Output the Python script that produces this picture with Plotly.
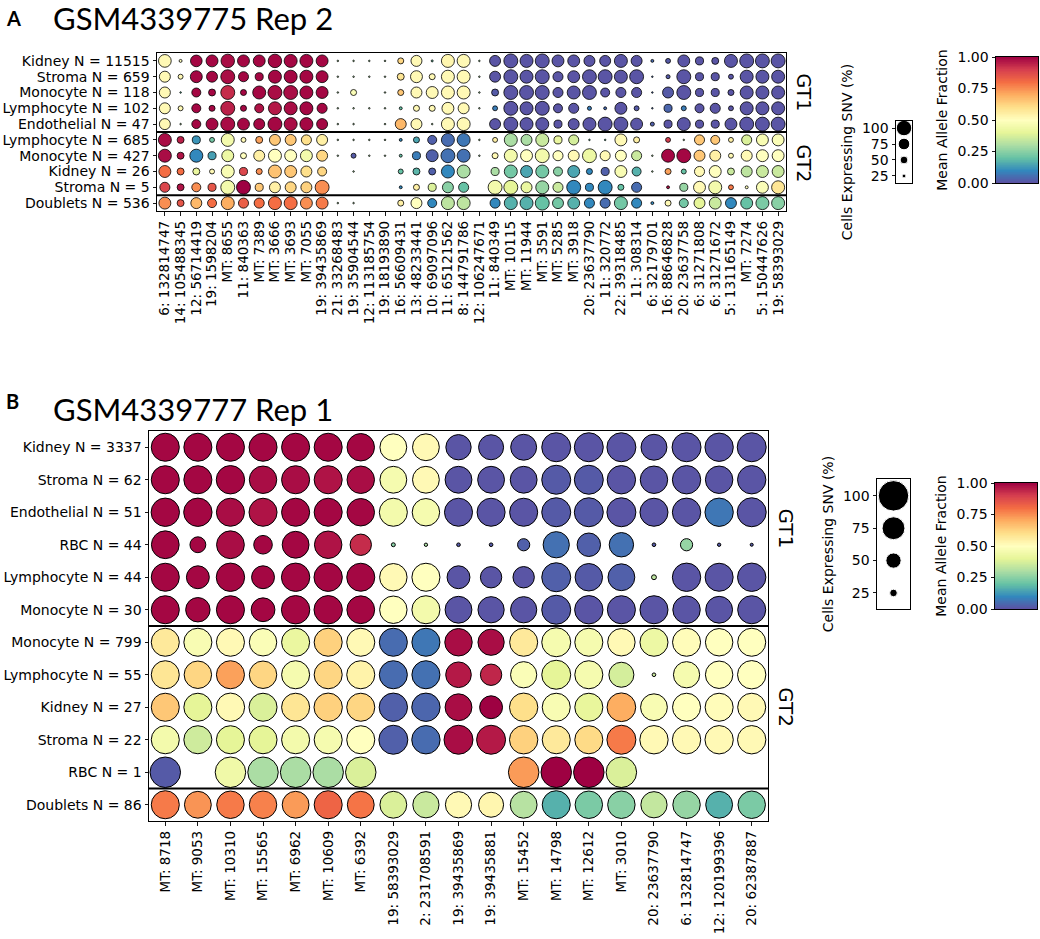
import numpy as np
import plotly.graph_objects as go

# ---------------- Panel A data ----------------
A_rows = ["Kidney N = 11515", "Stroma N = 659", "Monocyte N = 118", "Lymphocyte N = 102",
          "Endothelial N = 47", "Lymphocyte N = 685", "Monocyte N = 427", "Kidney N = 26",
          "Stroma N = 5", "Doublets N = 536"]
A_cols = ["6: 132814747", "14: 105488345", "12: 56714419", "19: 1598204", "MT: 8655",
          "11: 840363", "MT: 7389", "MT: 3666", "MT: 3693", "MT: 7055",
          "19: 39435869", "21: 33268483", "19: 35904544", "12: 113185754", "19: 18193890",
          "16: 56609431", "13: 48233441", "10: 69097096", "11: 65121562", "8: 144791786",
          "12: 106247671", "11: 840349", "MT: 10115", "MT: 11944", "MT: 3591",
          "MT: 5285", "MT: 3918", "20: 23637790", "11: 320772", "22: 39318485",
          "11: 308314", "6: 32179701", "16: 88646828", "20: 23637758", "6: 31271808",
          "6: 31271672", "5: 131165149", "MT: 7274", "5: 150447626", "19: 58393029"]
N = None
# cells expressing SNV (%)
A_pct = [
    [82, 19, 75, 77, 87, 77, 77, 87, 84, 84, 77, 10, 10, 10, 10, 39, 71, 13, 84, 84, 10, 71, 90, 84, 90, 77, 77, 71, 71, 84, 71, 19, 32, 77, 52, 45, 84, 90, 90, 90],
    [71, 32, 77, 71, 90, 65, 52, 84, 84, 84, 77, 10, 10, 10, 10, 45, 77, 39, 84, 84, 10, 71, 90, 84, 90, 65, 77, 90, 90, 84, 90, 10, 26, 90, 52, 52, 32, 84, 84, 84],
    [71, 10, 58, 45, 90, 39, 84, 90, 90, 84, 77, 10, 39, N, 10, 39, 71, 77, 84, 84, 10, 45, 90, 90, 90, 65, 84, 90, 58, 65, 65, 10, 71, 90, 52, 52, 39, 84, 84, 84],
    [71, 32, 58, 39, 90, 39, 58, 84, 84, 84, 65, 10, 10, 10, 10, 19, 39, 39, 77, 71, 10, 32, 90, 84, 90, 58, 65, 26, 19, 77, 32, 10, 52, 32, 58, 65, 32, 84, 84, 84],
    [71, 10, 58, 77, 90, 77, 71, 90, 84, 84, 71, 10, 10, N, 10, 71, 71, 10, 84, 84, N, 71, 90, 84, 84, 52, 71, 84, 90, 90, 77, 26, 52, 84, 52, 52, 77, 90, 90, 90],
    [84, 45, 52, 32, 84, 32, 45, 71, 71, 65, 71, 10, 10, 10, 10, 19, 39, 58, 84, 84, 10, 32, 84, 71, 84, 52, 65, 10, 10, 77, 39, N, 32, 10, 65, 58, 32, 65, 77, 77],
    [84, 45, 84, 52, 77, 39, 71, 84, 77, 77, 71, 10, 32, 10, 10, 19, 52, 77, 90, 84, 10, 39, 84, 77, 90, 65, 71, 90, 65, 71, 65, 10, 84, 90, 71, 71, 32, 71, 77, 77],
    [77, 45, 45, 32, 84, 52, 39, 84, 77, 71, 58, N, 10, N, N, 32, 45, 45, 84, 84, N, 52, 84, 77, 84, 58, 77, 39, 52, 77, 58, 10, 39, 32, 65, 77, 45, 71, 77, 77],
    [65, 45, 58, 52, 90, 90, 52, 71, 71, 71, 90, N, N, N, N, 19, 39, 52, 71, 65, N, 90, 90, 71, 84, 65, 90, 52, 90, 39, 65, N, 19, 52, 77, 84, 32, 19, 77, 84],
    [77, 45, 71, 58, 84, 65, 65, 84, 84, 77, 77, 10, 10, N, N, 39, 71, 58, 84, 84, N, 65, 84, 84, 90, 71, 77, 65, 65, 84, 65, 19, 39, 58, 71, 77, 71, 77, 84, 84],
]
# mean allele fraction
A_maf = [
    [0.52, 0.50, 0.99, 0.99, 0.98, 0.99, 0.99, 0.99, 0.99, 0.99, 0.99, 0.30, 0.30, 0.30, 0.30, 0.62, 0.52, 0.20, 0.53, 0.52, 0.30, 0.01, 0.01, 0.01, 0.01, 0.01, 0.01, 0.01, 0.01, 0.01, 0.01, 0.05, 0.02, 0.01, 0.01, 0.01, 0.01, 0.01, 0.01, 0.01],
    [0.52, 0.52, 0.99, 0.99, 0.98, 0.99, 0.99, 0.99, 0.99, 0.99, 0.99, 0.30, 0.30, 0.30, 0.30, 0.58, 0.52, 0.52, 0.52, 0.52, 0.30, 0.01, 0.01, 0.01, 0.01, 0.01, 0.01, 0.01, 0.01, 0.01, 0.01, 0.05, 0.02, 0.01, 0.01, 0.01, 0.01, 0.01, 0.01, 0.01],
    [0.52, 0.20, 0.99, 0.99, 0.93, 0.99, 0.99, 0.98, 0.98, 0.99, 0.99, 0.30, 0.48, N, 0.30, 0.65, 0.52, 0.52, 0.52, 0.52, 0.30, 0.02, 0.01, 0.01, 0.01, 0.01, 0.01, 0.01, 0.01, 0.01, 0.01, 0.05, 0.02, 0.01, 0.01, 0.01, 0.01, 0.01, 0.01, 0.01],
    [0.52, 0.52, 0.99, 0.99, 0.95, 0.99, 0.97, 0.96, 0.98, 0.99, 0.99, 0.30, 0.30, 0.30, 0.30, 0.20, 0.52, 0.52, 0.52, 0.52, 0.30, 0.08, 0.01, 0.01, 0.01, 0.01, 0.01, 0.08, 0.05, 0.01, 0.02, 0.05, 0.04, 0.08, 0.01, 0.01, 0.01, 0.01, 0.01, 0.01],
    [0.52, 0.30, 0.99, 0.99, 0.98, 0.99, 0.99, 0.99, 0.98, 0.99, 0.99, 0.30, 0.30, N, 0.30, 0.68, 0.52, 0.30, 0.52, 0.52, N, 0.01, 0.01, 0.01, 0.01, 0.01, 0.01, 0.01, 0.01, 0.01, 0.01, 0.03, 0.01, 0.01, 0.01, 0.01, 0.01, 0.01, 0.01, 0.01],
    [0.98, 0.95, 0.12, 0.22, 0.45, 0.52, 0.72, 0.65, 0.65, 0.60, 0.55, 0.30, 0.30, 0.30, 0.30, 0.10, 0.15, 0.03, 0.05, 0.07, 0.30, 0.55, 0.30, 0.30, 0.35, 0.42, 0.37, 0.20, 0.20, 0.52, 0.55, N, 0.90, 0.30, 0.65, 0.65, 0.55, 0.38, 0.47, 0.48],
    [0.98, 0.97, 0.10, 0.14, 0.43, 0.50, 0.55, 0.50, 0.50, 0.45, 0.62, 0.30, 0.02, 0.30, 0.30, 0.20, 0.08, 0.03, 0.06, 0.06, 0.30, 0.52, 0.45, 0.50, 0.45, 0.50, 0.52, 0.43, 0.52, 0.50, 0.35, 0.30, 0.99, 0.99, 0.65, 0.55, 0.52, 0.52, 0.50, 0.50],
    [0.80, 0.80, 0.42, 0.52, 0.47, 0.88, 0.75, 0.66, 0.65, 0.60, 0.62, N, 0.30, N, N, 0.20, 0.18, 0.03, 0.10, 0.30, N, 0.30, 0.22, 0.15, 0.22, 0.25, 0.15, 0.10, 0.03, 0.47, 0.17, 0.30, 0.72, 0.20, 0.52, 0.50, 0.35, 0.33, 0.35, 0.35],
    [0.88, 0.97, 0.75, 0.85, 0.45, 1.00, 0.65, 0.55, 0.62, 0.63, 0.75, N, N, N, N, 0.10, 0.55, 0.38, 0.25, 0.20, N, 0.45, 0.40, 0.42, 0.27, 0.35, 0.10, 0.10, 0.10, 0.20, 0.05, N, 0.97, 0.27, 0.52, 0.45, 0.78, 0.50, 0.48, 0.58],
    [0.75, 0.85, 0.68, 0.80, 0.70, 0.83, 0.80, 0.80, 0.80, 0.75, 0.78, 0.30, 0.30, N, N, 0.55, 0.50, 0.10, 0.33, 0.33, N, 0.10, 0.17, 0.17, 0.20, 0.22, 0.17, 0.10, 0.05, 0.22, 0.10, 0.10, 0.52, 0.22, 0.40, 0.35, 0.10, 0.20, 0.23, 0.25],
]

# ---------------- Panel B data ----------------
B_rows = ["Kidney N = 3337", "Stroma N = 62", "Endothelial N = 51", "RBC N = 44",
          "Lymphocyte N = 44", "Monocyte N = 30", "Monocyte N = 799", "Lymphocyte N = 55",
          "Kidney N = 27", "Stroma N = 22", "RBC N = 1", "Doublets N = 86"]
B_cols = ["MT: 8718", "MT: 9053", "MT: 10310", "MT: 15565", "MT: 6962", "MT: 10609", "MT: 6392",
          "19: 58393029", "2: 231708591", "19: 39435869", "19: 39435881", "MT: 15452",
          "MT: 14798", "MT: 12612", "MT: 3010", "20: 23637790", "6: 132814747",
          "12: 120199396", "20: 62387887"]
B_pct = [
    [92, 92, 92, 92, 92, 92, 90, 88, 88, 83, 82, 85, 95, 95, 95, 85, 95, 93, 95],
    [92, 92, 93, 90, 92, 92, 90, 88, 88, 88, 88, 88, 95, 95, 93, 90, 93, 90, 93],
    [93, 93, 92, 92, 92, 92, 90, 92, 90, 92, 92, 92, 95, 95, 95, 92, 93, 93, 95],
    [91, 52, 91, 61, 88, 90, 70, 13, 11, 12, 12, 40, 86, 77, 80, 12, 40, 11, 10],
    [92, 75, 93, 75, 93, 93, 92, 90, 92, 75, 70, 70, 95, 90, 88, 16, 93, 92, 93],
    [92, 80, 92, 78, 93, 93, 91, 90, 92, 88, 86, 86, 95, 93, 92, 92, 90, 88, 92],
    [92, 92, 92, 90, 92, 92, 92, 92, 92, 90, 86, 92, 95, 92, 90, 92, 92, 90, 92],
    [92, 90, 92, 90, 92, 92, 92, 92, 92, 84, 70, 86, 95, 92, 82, 12, 86, 90, 93],
    [92, 92, 93, 92, 92, 93, 92, 93, 93, 88, 75, 93, 92, 92, 94, 88, 92, 92, 92],
    [92, 92, 92, 92, 92, 92, 92, 95, 93, 95, 95, 93, 92, 92, 95, 93, 93, 93, 93],
    [100, N, 100, 100, 100, 100, 100, N, N, N, N, 100, 100, 100, 100, N, N, N, N],
    [92, 88, 90, 90, 88, 92, 88, 88, 86, 86, 82, 88, 92, 90, 90, 86, 90, 88, 90],
]
B_maf = [
    [0.99, 0.99, 0.99, 0.99, 0.99, 0.99, 0.99, 0.50, 0.52, 0.01, 0.01, 0.01, 0.01, 0.01, 0.01, 0.01, 0.01, 0.01, 0.01],
    [0.99, 0.99, 0.99, 0.98, 0.98, 0.97, 0.98, 0.46, 0.52, 0.01, 0.01, 0.01, 0.02, 0.02, 0.01, 0.01, 0.01, 0.01, 0.01],
    [0.99, 0.99, 0.98, 0.97, 0.99, 0.99, 0.99, 0.45, 0.46, 0.01, 0.01, 0.01, 0.02, 0.02, 0.01, 0.01, 0.01, 0.07, 0.01],
    [0.99, 0.99, 0.98, 0.99, 0.99, 0.97, 0.93, 0.25, 0.30, 0.02, 0.02, 0.03, 0.06, 0.03, 0.06, 0.02, 0.27, 0.02, 0.02],
    [0.99, 0.99, 0.99, 0.99, 0.99, 0.99, 0.99, 0.52, 0.50, 0.01, 0.01, 0.01, 0.03, 0.02, 0.03, 0.33, 0.01, 0.01, 0.01],
    [0.99, 0.99, 0.99, 0.99, 0.99, 0.99, 0.99, 0.50, 0.45, 0.01, 0.01, 0.01, 0.02, 0.01, 0.01, 0.01, 0.01, 0.01, 0.01],
    [0.57, 0.47, 0.52, 0.48, 0.42, 0.63, 0.52, 0.05, 0.07, 0.98, 0.98, 0.57, 0.46, 0.46, 0.52, 0.43, 0.51, 0.50, 0.50],
    [0.58, 0.62, 0.72, 0.62, 0.46, 0.62, 0.54, 0.05, 0.06, 0.96, 0.94, 0.48, 0.40, 0.46, 0.37, 0.35, 0.46, 0.50, 0.50],
    [0.65, 0.40, 0.52, 0.38, 0.58, 0.63, 0.62, 0.03, 0.04, 0.98, 1.00, 0.60, 0.47, 0.41, 0.70, 0.47, 0.50, 0.51, 0.52],
    [0.45, 0.36, 0.40, 0.40, 0.45, 0.46, 0.50, 0.03, 0.05, 0.98, 0.96, 0.63, 0.57, 0.61, 0.78, 0.52, 0.52, 0.52, 0.52],
    [0.02, N, 0.44, 0.30, 0.30, 0.30, 0.38, N, N, N, N, 0.73, 1.00, 1.00, 0.38, N, N, N, N],
    [0.78, 0.74, 0.78, 0.77, 0.73, 0.82, 0.79, 0.38, 0.35, 0.52, 0.53, 0.32, 0.17, 0.23, 0.25, 0.34, 0.27, 0.17, 0.23],
]

legend_pct = [100, 75, 50, 25]
cbar_ticks = [0.0, 0.25, 0.5, 0.75, 1.0]

FONT = "DejaVu Sans"
TITLE_FONT = "Lato"
W, H = 1040, 939
CS = "Spectral_r"


def px_x(p):
    return p / W


def px_y(p):
    return 1 - p / H


fig = go.Figure()


def add_dots(rows, cols, maf, pct, k, xa, ya, lw):
    xs, ys, cs, ss = [], [], [], []
    for i, r in enumerate(rows):
        for j, c in enumerate(cols):
            if pct[i][j] is None:
                continue
            xs.append(c)
            ys.append(r)
            cs.append(maf[i][j])
            ss.append(pct[i][j] * k)
    fig.add_trace(go.Scatter(
        x=xs, y=ys, mode="markers", xaxis=xa, yaxis=ya, showlegend=False, hoverinfo="skip",
        marker=dict(size=ss, sizemode="diameter", color=cs, colorscale=CS, cmin=0, cmax=1,
                    opacity=1, line=dict(color="black", width=lw))))


kA, kB = 0.155, 0.305
add_dots(A_rows, A_cols, A_maf, A_pct, kA, "x", "y", 0.8)
add_dots(B_rows, B_cols, B_maf, B_pct, kB, "x2", "y2", 1.0)

# size legends
fig.add_trace(go.Scatter(x=[0] * 4, y=legend_pct, mode="markers", xaxis="x3", yaxis="y3",
                         showlegend=False, hoverinfo="skip",
                         marker=dict(size=[p * kA for p in legend_pct], color="black", opacity=1)))
fig.add_trace(go.Scatter(x=[0] * 4, y=legend_pct, mode="markers", xaxis="x5", yaxis="y5",
                         showlegend=False, hoverinfo="skip",
                         marker=dict(size=[p * kB for p in legend_pct], color="black", opacity=1)))

# colour bars drawn as gradient heatmaps
grad = np.linspace(0, 1, 201)
for xa, ya in (("x4", "y4"), ("x6", "y6")):
    fig.add_trace(go.Heatmap(z=[[g] for g in grad], x=[0], y=grad, colorscale=CS, zmin=0, zmax=1,
                             showscale=False, xaxis=xa, yaxis=ya, hoverinfo="skip"))

tickfont = dict(family=FONT, size=13.5, color="black")
yfont = dict(family=FONT, size=14, color="black")
common = dict(showline=True, mirror=True, linecolor="black", linewidth=1, showgrid=False,
              zeroline=False, ticks="outside", ticklen=3.5, tickwidth=0.9, tickcolor="black",
              automargin=False)
box = dict(showticklabels=False, showline=True, mirror=True, linecolor="black", linewidth=1,
           showgrid=False, zeroline=False, ticks="", automargin=False)

layout = dict(
    template="none",
    width=W, height=H, margin=dict(l=0, r=0, t=0, b=0, pad=0), autosize=False,
    paper_bgcolor="white", plot_bgcolor="white", font=dict(family=FONT, color="black"),
    xaxis=dict(domain=[px_x(157), px_x(786)], anchor="y", type="category",
               categoryorder="array", categoryarray=A_cols, range=[-0.5, len(A_cols) - 0.5],
               tickmode="array", tickvals=A_cols, ticktext=A_cols,
               tickangle=-90, tickfont=tickfont, **common),
    yaxis=dict(domain=[px_y(211), px_y(53)], anchor="x", type="category",
               categoryorder="array", categoryarray=A_rows, range=[len(A_rows) - 0.5, -0.5],
               tickmode="array", tickvals=A_rows, ticktext=A_rows, tickfont=yfont, **common),
    xaxis2=dict(domain=[px_x(149), px_x(768)], anchor="y2", type="category",
                categoryorder="array", categoryarray=B_cols, range=[-0.5, len(B_cols) - 0.5],
                tickmode="array", tickvals=B_cols, ticktext=B_cols,
                tickangle=-90, tickfont=tickfont, **common),
    yaxis2=dict(domain=[px_y(821), px_y(431)], anchor="x2", type="category",
                categoryorder="array", categoryarray=B_rows, range=[len(B_rows) - 0.5, -0.5],
                tickmode="array", tickvals=B_rows, ticktext=B_rows, tickfont=yfont, **common),
    # size legend A
    xaxis3=dict(domain=[px_x(896), px_x(912)], anchor="y3", range=[-1, 1], **box),
    yaxis3=dict(domain=[px_y(183), px_y(121)], anchor="x3", range=[14, 111], tickmode="array",
                tickvals=legend_pct, tickfont=yfont,
                title=dict(text="Cells Expressing SNV (%)", font=dict(family=FONT, size=14),
                           standoff=6), **common),
    # colourbar A
    xaxis4=dict(domain=[px_x(996), px_x(1038)], anchor="y4", range=[-0.5, 0.5], **box),
    yaxis4=dict(domain=[px_y(183), px_y(57)], anchor="x4", range=[0, 1], tickmode="array",
                tickvals=cbar_ticks, tickformat=".2f", tickfont=yfont,
                title=dict(text="Mean Allele Fraction", font=dict(family=FONT, size=14), standoff=6),
                **common),
    # size legend B
    xaxis5=dict(domain=[px_x(877), px_x(910)], anchor="y5", range=[-1, 1], **box),
    yaxis5=dict(domain=[px_y(609), px_y(479)], anchor="x5", range=[12.6, 113], tickmode="array",
                tickvals=legend_pct, tickfont=yfont,
                title=dict(text="Cells Expressing SNV (%)", font=dict(family=FONT, size=14),
                           standoff=6), **common),
    # colourbar B
    xaxis6=dict(domain=[px_x(995), px_x(1037)], anchor="y6", range=[-0.5, 0.5], **box),
    yaxis6=dict(domain=[px_y(609), px_y(483)], anchor="x6", range=[0, 1], tickmode="array",
                tickvals=cbar_ticks, tickformat=".2f", tickfont=yfont,
                title=dict(text="Mean Allele Fraction", font=dict(family=FONT, size=14), standoff=6),
                **common),
)
fig.update_layout(**layout)

# group separators
shapes = []
for ya, xdom, vals in (("y", "x domain", [4.5, 8.5]), ("y2", "x2 domain", [5.5, 10.5])):
    for v in vals:
        shapes.append(dict(type="line", xref=xdom, yref=ya, x0=0, x1=1, y0=v, y1=v,
                           line=dict(color="black", width=2)))
fig.update_layout(shapes=shapes)

ann = [
    dict(text="<b>A</b>", x=px_x(4), y=px_y(18), xref="paper", yref="paper", xanchor="left",
         yanchor="middle", showarrow=False, font=dict(family=TITLE_FONT, size=20, color="black")),
    dict(text="GSM4339775 Rep 2", x=px_x(51), y=px_y(18), xref="paper", yref="paper", xanchor="left",
         yanchor="middle", showarrow=False, font=dict(family=TITLE_FONT, size=31, color="black")),
    dict(text="<b>B</b>", x=px_x(4), y=px_y(401), xref="paper", yref="paper", xanchor="left",
         yanchor="middle", showarrow=False, font=dict(family=TITLE_FONT, size=20, color="black")),
    dict(text="GSM4339777 Rep 1", x=px_x(51), y=px_y(409), xref="paper", yref="paper", xanchor="left",
         yanchor="middle", showarrow=False, font=dict(family=TITLE_FONT, size=31, color="black")),
    dict(text="GT1", x=px_x(804), y=2, xref="paper", yref="y", xanchor="center", textangle=90,
         showarrow=False, font=dict(family=FONT, size=19, color="black")),
    dict(text="GT2", x=px_x(804), y=6.5, xref="paper", yref="y", xanchor="center", textangle=90,
         showarrow=False, font=dict(family=FONT, size=19, color="black")),
    dict(text="GT1", x=px_x(786), y=2.5, xref="paper", yref="y2", xanchor="center", textangle=90,
         showarrow=False, font=dict(family=FONT, size=20, color="black")),
    dict(text="GT2", x=px_x(786), y=8, xref="paper", yref="y2", xanchor="center", textangle=90,
         showarrow=False, font=dict(family=FONT, size=20, color="black")),
]
fig.update_layout(annotations=ann)

fig.write_html("out.html", config={"displayModeBar": False, "staticPlot": True},
               post_script="document.body.style.margin='0';document.body.style.overflow='hidden';")
